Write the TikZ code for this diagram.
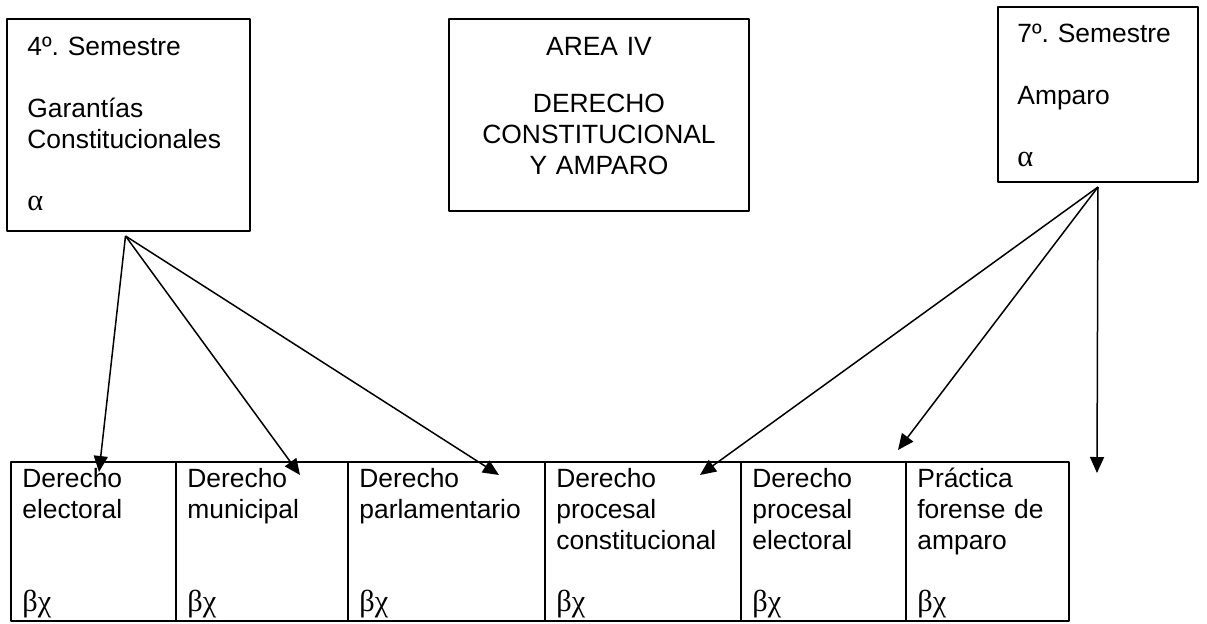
\documentclass[tikz,border=0pt]{standalone}
\usepackage{fontspec}
\setmainfont{Liberation Sans}
\newfontfamily\grk{Liberation Serif}[Scale=1.15]
\frenchspacing
\usetikzlibrary{positioning,arrows.meta}
\tikzset{
	caja/.style={draw, line width=0.95pt, inner sep=0pt, outer sep=0pt,
		anchor=north west},
	texto/.style={inner sep=0pt, anchor=base west, align=left,
		text width=#1},
	fila/.style={caja, minimum height=79.5pt},
}
\begin{document}
\begin{tikzpicture}[x=0.5pt, y=-0.5pt, line join=round,
	font=\fontsize{13.2pt}{15.5pt}\selectfont, >={Triangle[length=8pt,width=7pt]}]
	\useasboundingbox (0,0) rectangle (1207,623);
	% cajas de arriba
	\node[caja, minimum width=121.5pt, minimum height=106pt] (sem4) at (7,19) {};
	\node[caja, minimum width=150pt, minimum height=96pt] (area) at (449,19) {};
	\node[caja, minimum width=100pt, minimum height=87.5pt] (sem7) at (998,7) {};
	\node[texto=115pt] (tsem4) at ([shift={(20,36)}]sem4.north west)
	{4º. Semestre\\[\baselineskip]Garantías\\Constitucionales\\[\baselineskip]{\grk α}};
	\node[inner sep=0pt, anchor=base, align=center, text width=150pt] (tarea)
	at ([shift={(0,36)}]area.north)
	{AREA IV\\[13pt]DERECHO\\CONSTITUCIONAL\\Y AMPARO};
	\node[texto=95pt] (tsem7) at ([shift={(19,35)}]sem7.north west)
	{7º. Semestre\\[\baselineskip]Amparo\\[\baselineskip]{\grk α}};
	% materias
	\node[fila, minimum width=82.5pt] (elec) at (11,462) {};
	\node[fila, minimum width=86pt, right=0pt of elec] (muni) {};
	\node[fila, minimum width=98.5pt, right=0pt of muni] (parl) {};
	\node[fila, minimum width=98pt, right=0pt of parl] (pcon) {};
	\node[fila, minimum width=82.5pt, right=0pt of pcon] (pele) {};
	\node[fila, minimum width=81.5pt, right=0pt of pele] (prac) {};
	\foreach \c/\t in {elec/{Derecho\\electoral\\[2\baselineskip]},
		muni/{Derecho\\municipal\\[2\baselineskip]},
		parl/{Derecho\\parlamentario\\[2\baselineskip]},
		pcon/{Derecho\\procesal\\constitucional\\[\baselineskip]},
		pele/{Derecho\\procesal\\electoral\\[\baselineskip]},
		prac/{Práctica\\forense de\\amparo\\[\baselineskip]}}
	\node[texto=100pt] (t\c) at ([shift={(11,25)}]\c.north west) {\t{\grk βχ}};
	% flechas
	\coordinate (o4) at ([shift={(-3,5)}]sem4.south);
	\coordinate (o7) at ([shift={(0,5)}]sem7.south);
	\coordinate (p1) at ([shift={(88,10)}]elec.north west);
	\coordinate (p2) at ([shift={(124,13)}]muni.north west);
	\coordinate (p3) at ([shift={(151,13)}]parl.north west);
	\coordinate (p4) at ([shift={(155,13)}]pcon.north west);
	\coordinate (p5) at ([shift={(157,-12)}]pele.north west);
	\coordinate (p6) at ([shift={(28,11)}]prac.north east);
	\foreach \p in {p1,p2,p3}
	\draw[->, line width=0.75pt] (o4) -- (\p);
	\foreach \p in {p4,p5,p6}
	\draw[->, line width=0.75pt] (o7) -- (\p);
\end{tikzpicture}
\end{document}
